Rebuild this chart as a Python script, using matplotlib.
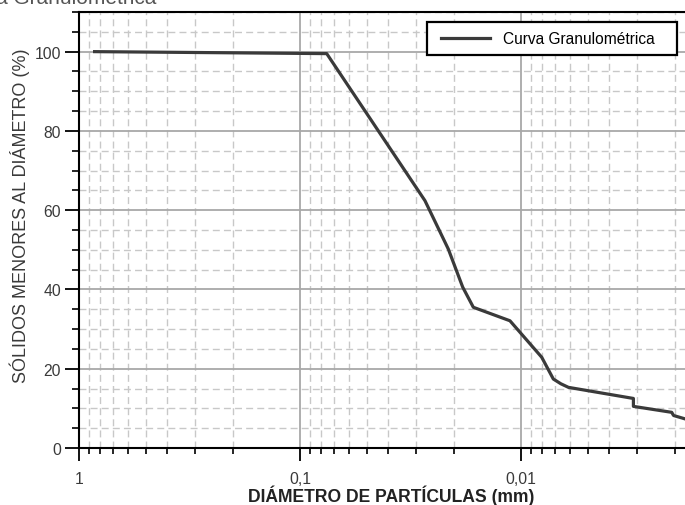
import matplotlib
matplotlib.use("Agg")
import matplotlib.pyplot as plt
from matplotlib.patches import Rectangle
from matplotlib.ticker import FixedLocator, FixedFormatter, LogLocator, NullFormatter, MultipleLocator

plt.rcParams['font.family'] = ['Liberation Sans', 'DejaVu Sans']

# Data
diametro = [0.85, 0.0757, 0.0272, 0.02133, 0.01836, 0.01643, 0.01122, 0.00806,
            0.00714, 0.0066, 0.0061, 0.0031, 0.0031, 0.00208, 0.00204, 0.0017]
pasante = [100, 99.5, 62.4, 50.2, 40.6, 35.5, 32.1, 22.9,
           17.4, 16.2, 15.3, 12.5, 10.5, 9.0, 8.2, 6.9]
x_major = [1, 0.1, 0.01]
x_labels = ["1", "0,1", "0,01"]
y_major = [0, 20, 40, 60, 80, 100]

W, H = 685, 506
fig = plt.figure(figsize=(W / 100, H / 100), dpi=100)
left, right, bottom, top = 79, 705, 449, 13
ax = fig.add_axes([left / W, 1 - bottom / H, (right - left) / W, (bottom - top) / H])


def ax_xy(px, py):
    return (px - left) / (right - left), (bottom - py) / (bottom - top)


ax.plot(diametro, pasante, color='#3a3a3a', lw=2.3, solid_joinstyle='round',
        label='Curva Granulométrica', zorder=5)

ax.set_xscale('log')
ax.set_xlim(1, 10 ** (-(right - left) / 221))
ax.set_ylim(0, 110)

ax.xaxis.set_major_locator(FixedLocator(x_major))
ax.xaxis.set_major_formatter(FixedFormatter(x_labels))
ax.xaxis.set_minor_locator(LogLocator(base=10, subs=range(2, 10)))
ax.xaxis.set_minor_formatter(NullFormatter())
ax.yaxis.set_major_locator(FixedLocator(y_major))
ax.yaxis.set_minor_locator(MultipleLocator(5))

ax.grid(which='major', color='#a8a8a8', lw=1.3, ls='-')
ax.grid(which='minor', color='#c8c8c8', lw=1.0, ls=(0, (5, 3)))
ax.set_axisbelow(True)

ax.tick_params(axis='x', which='major', direction='out', length=9, width=1.3,
               pad=7.5, labelsize=11.3, labelcolor='#3a3a3a')
ax.tick_params(axis='x', which='minor', direction='out', length=4.5, width=1.2)
ax.tick_params(axis='y', which='major', direction='out', length=10, width=1.3,
               pad=3, labelsize=11.3, labelcolor='#3a3a3a')
ax.tick_params(axis='y', which='minor', direction='out', length=5, width=1.2)

for s in ['left', 'bottom', 'top']:
    ax.spines[s].set_linewidth(1.5)
    ax.spines[s].set_color('black')
ax.spines['right'].set_visible(False)

# axis titles placed to match the reference
xlab = fig.text(391.5 / W, 1 - 502 / H, 'DIÁMETRO DE PARTÍCULAS (mm)', fontsize=12.5,
                fontweight='bold', color='#222222', ha='center', va='baseline')
ylab = fig.text(20 / W, 1 - 215.5 / H, 'SÓLIDOS MENORES AL DIÁMETRO (%)', rotation=90,
                ha='center', va='center', fontsize=12, color='#3a3a3a')

fig.text(-48 / W, 1 - 4 / H, 'Curva Granulométrica', fontsize=15,
         color='#555555', ha='left', va='baseline')

# legend box
x0, y0 = ax_xy(427, 56)
x1, y1 = ax_xy(677, 23)
ax.add_patch(Rectangle((x0, y0), x1 - x0, y1 - y0, transform=ax.transAxes,
                       facecolor='white', edgecolor='black', lw=1.6, zorder=6,
                       clip_on=False))
fs_leg = 11.2
leg = ax.legend(loc='center left', bbox_to_anchor=ax_xy(441, 39.5), borderaxespad=0,
                borderpad=0, frameon=False, fontsize=fs_leg,
                handlelength=49 / (fs_leg * 100 / 72),
                handletextpad=13 / (fs_leg * 100 / 72))
leg.set_zorder(7)

# scale label fonts so their lengths match the reference
fig.canvas.draw()
r = fig.canvas.get_renderer()
bb = ylab.get_window_extent(r)
ylab.set_fontsize(ylab.get_fontsize() * 335 / bb.height)
bb = xlab.get_window_extent(r)
xlab.set_fontsize(xlab.get_fontsize() * 287 / bb.width)

fig.savefig('out.png', dpi=100)
